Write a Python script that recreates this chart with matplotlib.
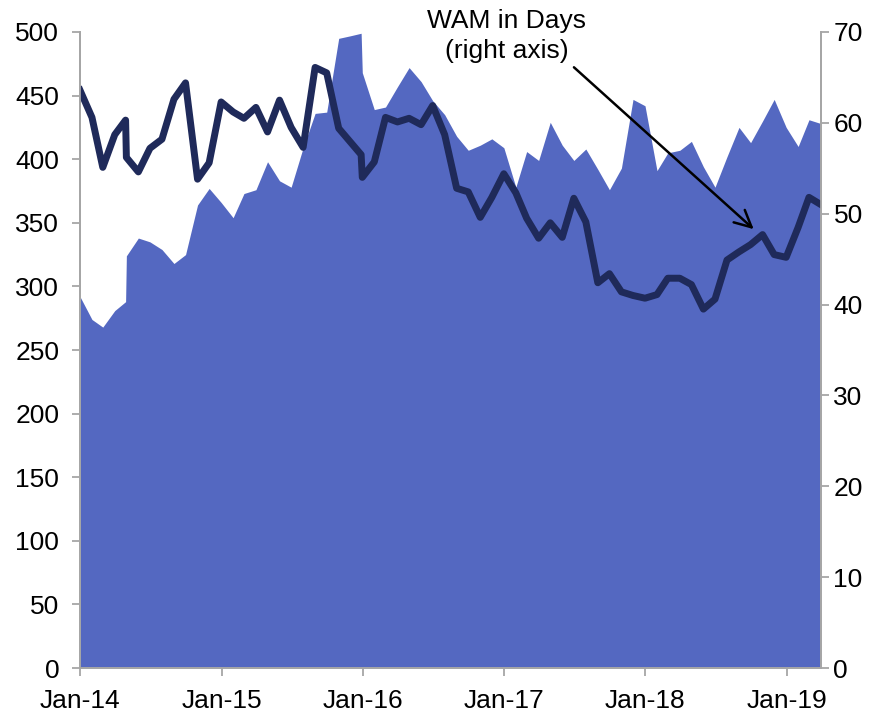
import matplotlib
matplotlib.use('Agg')
import matplotlib.pyplot as plt
import matplotlib.dates as mdates
import pandas as pd

plt.rcParams['font.family'] = ['Liberation Sans', 'DejaVu Sans']

# month-end observations (two prints in Apr-14 and Dec-15)
dates = ['2013-12-31', '2014-01-31', '2014-02-28', '2014-03-31', '2014-04-28', '2014-04-30',
         '2014-05-31', '2014-06-30', '2014-07-31', '2014-08-31', '2014-09-30', '2014-10-31',
         '2014-11-30', '2014-12-31', '2015-01-31', '2015-02-28', '2015-03-31', '2015-04-30',
         '2015-05-31', '2015-06-30', '2015-07-31', '2015-08-31', '2015-09-30', '2015-10-31',
         '2015-11-30', '2015-12-28', '2015-12-31', '2016-01-31', '2016-02-29', '2016-03-31',
         '2016-04-30', '2016-05-31', '2016-06-30', '2016-07-31', '2016-08-31', '2016-09-30',
         '2016-10-31', '2016-11-30', '2016-12-31', '2017-01-31', '2017-02-28', '2017-03-31',
         '2017-04-30', '2017-05-31', '2017-06-30', '2017-07-31', '2017-08-31', '2017-09-30',
         '2017-10-31', '2017-11-30', '2017-12-31', '2018-01-31', '2018-02-28', '2018-03-31',
         '2018-04-30', '2018-05-31', '2018-06-30', '2018-07-31', '2018-08-31', '2018-09-30',
         '2018-10-31', '2018-11-30', '2018-12-31', '2019-01-31', '2019-02-28', '2019-03-31']

# assets (left axis)
assets = [292, 274, 268, 281, 288, 324,
          338, 335, 329, 318, 325, 364,
          377, 366, 354, 373, 376, 398,
          383, 378, 409, 436, 437, 495,
          497, 499, 468, 439, 441, 457,
          472, 461, 446, 435, 418, 407,
          411, 416, 409, 378, 406, 399,
          429, 411, 399, 408, 392, 376,
          393, 447, 442, 391, 405, 407,
          414, 394, 378, 402, 425, 413,
          430, 447, 425, 410, 431, 428]

# weighted average maturity in days (right axis)
wam = [63.6, 60.6, 55.1, 58.7, 60.3, 56.2,
       54.6, 57.2, 58.2, 62.6, 64.4, 53.8,
       55.6, 62.3, 61.2, 60.5, 61.7, 59.0,
       62.5, 59.5, 57.3, 66.1, 65.5, 59.4,
       57.9, 56.5, 54.0, 55.7, 60.6, 60.1,
       60.5, 59.8, 61.9, 58.7, 52.8, 52.4,
       49.6, 51.8, 54.4, 52.3, 49.5, 47.3,
       49.0, 47.4, 51.7, 49.1, 42.4, 43.4,
       41.4, 41.0, 40.7, 41.1, 42.9, 42.9,
       42.2, 39.5, 40.6, 44.9, 45.8, 46.6,
       47.7, 45.5, 45.2, 48.5, 51.8, 51.0]

x = pd.to_datetime(dates)
grey = '#A6A6A6'

fig = plt.figure(figsize=(8.73, 7.14), dpi=100)
ax = fig.add_axes([0.0916, 0.0644, 0.8488, 0.8908])
ax2 = ax.twinx()

ax.fill_between(x, 0, assets, color='#5468C1', linewidth=0)
ax2.plot(x, wam, color='#1F2A5A', linewidth=5)

ax.set_xlim(x[0], x[-1])
ax.set_ylim(0, 500)
ax.set_yticks(range(0, 501, 50))
ax2.set_ylim(0, 70)
ax2.set_yticks(range(0, 71, 10))

ax.xaxis.set_major_locator(mdates.YearLocator())
ax.xaxis.set_major_formatter(mdates.DateFormatter('%b-%y'))

for a in (ax, ax2):
    a.spines['top'].set_visible(False)
    for s in ('left', 'right', 'bottom'):
        a.spines[s].set_color(grey)
        a.spines[s].set_linewidth(1.3)
    a.tick_params(colors=grey, labelcolor='black', labelsize=19, length=6, width=1.3)
ax.tick_params(axis='y', pad=9)
ax.tick_params(axis='x', pad=9)
ax2.tick_params(axis='y', pad=3)

ax2.annotate('WAM in Days\n(right axis)',
             xy=(pd.Timestamp('2018-10-08'), 48.3), xycoords='data',
             xytext=(0.576, 0.994), textcoords='axes fraction',
             ha='center', va='center', fontsize=19, linespacing=1.3,
             annotation_clip=False,
             arrowprops=dict(arrowstyle='->', color='black', lw=1.8,
                             relpos=(0.89, 0.0), shrinkA=2, shrinkB=0,
                             mutation_scale=30))

fig.savefig('out.png', dpi=100)
